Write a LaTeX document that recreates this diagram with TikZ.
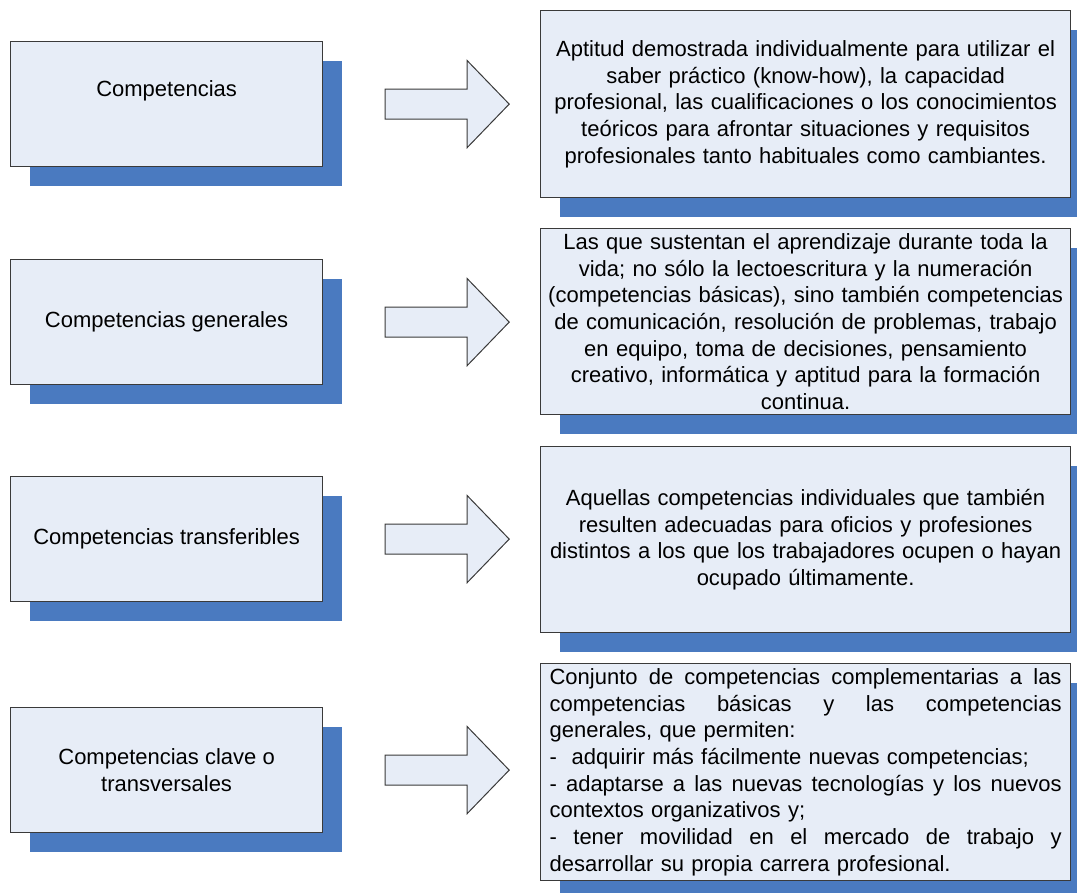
\documentclass[tikz,border=0pt]{standalone}
\usepackage{fontspec}
\setmainfont{Liberation Sans}
\usetikzlibrary{shadows}
\definecolor{boxfill}{HTML}{E7EDF7}
\definecolor{shadowblue}{HTML}{4A7AC0}
\definecolor{edgegray}{HTML}{3A3A3A}
\newcommand{\jline}[1]{\makebox[512pt][s]{\spaceskip=0pt\xspaceskip=0pt\relax #1}}

\begin{document}
\begin{tikzpicture}[x=1pt, y=-1pt,
  term/.style={draw=edgegray, line width=1.2pt, fill=boxfill, anchor=north west,
               minimum width=312pt, minimum height=125pt, align=center, inner sep=4pt,
               font=\fontsize{22}{26.7}\selectfont,
               drop shadow={shadow xshift=19pt, shadow yshift=-19pt, fill=shadowblue, opacity=1, draw=none}},
  defn/.style={term, minimum width=530pt, text width=522pt, inner ysep=1pt},
  justdefn/.style={defn, align=left, text width=512pt, inner xsep=9pt},
  arrowshape/.style={draw=edgegray, line width=1pt, fill=boxfill, line join=miter},
  blockarrow/.pic={\draw[arrowshape] (0,-15) -- (82,-15) -- (82,-43.5) -- (124,0)
                     -- (82,43.5) -- (82,15) -- (0,15) -- cycle;}]
  \useasboundingbox (0,0) rectangle (1077,893);
  % terms
  \node[term] (comp) at (10,41) {\strut Competencias\\\strut};
  \node[term] (gen) at (10,259) {Competencias generales};
  \node[term] (transf) at (10,476) {Competencias transferibles};
  \node[term] (clave) at (10,707) {Competencias clave o\\transversales};
  % arrows
  \pic at ([xshift=62pt]comp.east) {blockarrow};
  \pic at ([xshift=62pt]gen.east) {blockarrow};
  \pic at ([xshift=62pt]transf.east) {blockarrow};
  \pic at ([xshift=62pt]clave.east) {blockarrow};
  % definitions
  \node[defn, minimum height=187pt] (compdef) at (540,10) {Aptitud demostrada individualmente para utilizar el\\
    saber práctico (know-how), la capacidad\\
    profesional, las cualificaciones o los conocimientos\\
    teóricos para afrontar situaciones y requisitos\\
    profesionales tanto habituales como cambiantes.};
  \node[defn, minimum height=186pt] (gendef) at (540,228) {Las que sustentan el aprendizaje durante toda la\\
    vida; no sólo la lectoescritura y la numeración\\
    (competencias básicas), sino también competencias\\
    de comunicación, resolución de problemas, trabajo\\
    en equipo, toma de decisiones, pensamiento\\
    creativo, informática y aptitud para la formación\\
    continua.};
  \node[defn, minimum height=186pt] (transfdef) at (540,446) {Aquellas competencias individuales que también\\
    resulten adecuadas para oficios y profesiones\\
    distintos a los que los trabajadores ocupen o hayan\\
    ocupado últimamente.};
  \node[justdefn, minimum height=217pt] (clavedef) at (540,663) {%
    \jline{Conjunto de competencias complementarias a las}\\
    \jline{competencias básicas y las competencias}\\
    generales, que permiten:\\
    -~ adquirir más fácilmente nuevas competencias;\\
    \jline{- adaptarse a las nuevas tecnologías y los nuevos}\\
    contextos organizativos y;\\
    \jline{- tener movilidad en el mercado de trabajo y}\\
    desarrollar su propia carrera profesional.};
\end{tikzpicture}
\end{document}
